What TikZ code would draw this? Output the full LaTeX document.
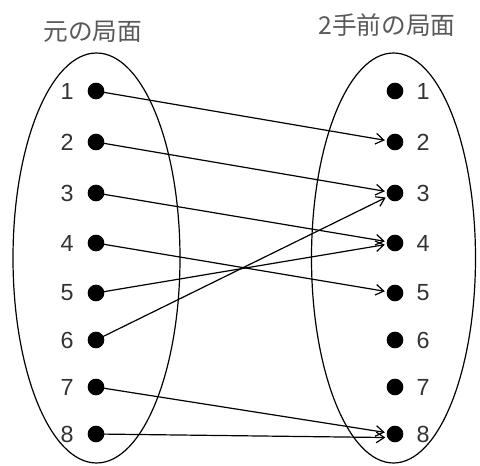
\documentclass[tikz,border=0pt]{standalone}
\usepackage{fontspec}
\setmainfont{Liberation Sans}
\newfontfamily\jpfont{Noto Sans CJK JP}
\usepackage{tikz}
\usetikzlibrary{arrows.meta}

\begin{document}
\begin{tikzpicture}[x=0.75pt, y=-0.75pt,
  dot/.style={circle, fill=black, inner sep=0pt, minimum size=12.5pt, outer sep=1.5pt},
  num/.style={font=\fontsize{17.5}{17.5}\selectfont, text=black!80},
  title/.style={font=\jpfont\fontsize{18.5}{18.5}\selectfont, text=black!65},
  map/.style={-{Straight Barb[length=6pt, width=8pt]}, line width=0.9pt},
  set/.style={draw, line width=0.9pt}
]
  \useasboundingbox (0,0) rectangle (480,466);

  % the two sets
  \draw[set] (96.5,258) ellipse [x radius=83.5, y radius=205];
  \draw[set] (393.5,258) ellipse [x radius=82, y radius=205];

  \node[title] (srctitle) at (93,32) {元の局面};
  \node[title] (dsttitle) at (387,25) {2手前の局面};

  % elements
  \foreach \i/\y in {1/91, 2/142, 3/193, 4/243, 5/293, 6/340, 7/387, 8/434} {
    \node[dot] (l\i) at (96,\y) {};
    \node[num] (ln\i) at (67,\y) {\i};
    \node[dot] (r\i) at (395,\y) {};
    \node[num] (rn\i) at (423,\y) {\i};
  }

  % mapping
  \draw[map] (l1.center) -- (r2);
  \draw[map] (l2.center) -- (r3);
  \draw[map] (l3.center) -- (r4);
  \draw[map] (l4.center) -- (r5);
  \draw[map] (l5.center) -- (r4);
  \draw[map] (l6.center) -- (r3);
  \draw[map] (l7.center) -- (r8);
  \draw[map] (l8.center) -- (r8.200);
\end{tikzpicture}
\end{document}
